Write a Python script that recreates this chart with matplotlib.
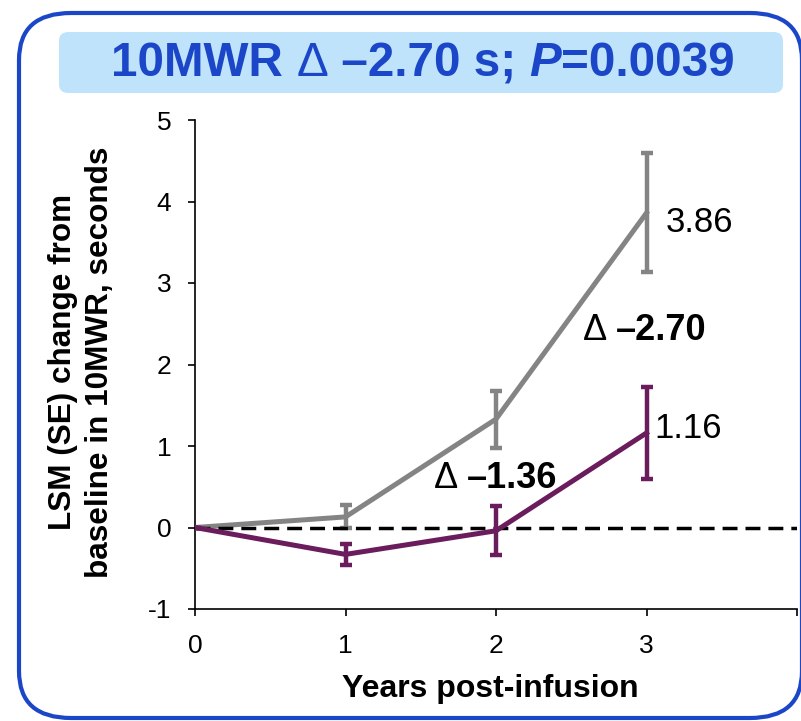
import matplotlib
matplotlib.use('Agg')
import matplotlib.pyplot as plt
import matplotlib.transforms as mtransforms
from matplotlib.patches import FancyBboxPatch

plt.rcParams['font.family'] = ['Liberation Sans', 'DejaVu Sans']
plt.rcParams['axes.unicode_minus'] = False

# data
years = [0, 1, 2, 3]
grey_lsm = [0.0, 0.13, 1.33, 3.86]
grey_se = [0.0, 0.14, 0.35, 0.73]
purple_lsm = [0.0, -0.33, -0.04, 1.16]
purple_se = [0.0, 0.13, 0.30, 0.57]
x_ticks = [0, 1, 2, 3, 4]
x_ticklabels = ['0', '1', '2', '3', '']
y_ticks = [-1, 0, 1, 2, 3, 4, 5]

GREY = '#848484'
PURPLE = '#6A1C5C'
BLUE = '#1B46C8'
TITLE_BG = '#BEE3FB'

W, H = 801, 721
fig = plt.figure(figsize=(W / 100, H / 100), dpi=100, facecolor='white')


def fx(px):
    return px / W


def fy(py):
    return 1 - py / H


# outer rounded frame
frame = FancyBboxPatch((fx(19), fy(718)), fx(802) - fx(19), fy(13) - fy(718),
                       boxstyle='round,pad=0,rounding_size=0.065',
                       transform=fig.transFigure, facecolor='none',
                       edgecolor=BLUE, linewidth=3.0, zorder=0)
fig.patches.append(frame)

# title box
tbox = FancyBboxPatch((fx(59), fy(93)), fx(783) - fx(59), fy(32) - fy(93),
                      boxstyle='round,pad=0,rounding_size=0.012',
                      transform=fig.transFigure, facecolor=TITLE_BG,
                      edgecolor='none', zorder=0)
fig.patches.append(tbox)

ax = fig.add_axes([fx(195), fy(609), fx(797) - fx(195), fy(120) - fy(609)])
ax.set_facecolor('none')
ax.set_zorder(2)

ax.errorbar(years, grey_lsm, yerr=grey_se, color=GREY, linewidth=3.6,
            elinewidth=3.2, capsize=4.5, capthick=3.2, zorder=3)
ax.axhline(0, color='black', linewidth=2.5, linestyle=(0, (4.3, 2.3)), zorder=4)
ax.errorbar(years, purple_lsm, yerr=purple_se, color=PURPLE, linewidth=3.6,
            elinewidth=3.2, capsize=4.5, capthick=3.2, zorder=5)

ax.set_xlim(0, 4)
ax.set_ylim(-1, 5)
ax.set_xticks(x_ticks)
ax.set_xticklabels(x_ticklabels)
ax.set_yticks(y_ticks)
for s in ['top', 'right']:
    ax.spines[s].set_visible(False)
for s in ['left', 'bottom']:
    ax.spines[s].set_linewidth(1.2)
ax.tick_params(direction='out', length=5, width=1.2, labelsize=19)
ax.tick_params(axis='x', pad=13)
ax.tick_params(axis='y', pad=12)

ax.set_xlabel('Years post-infusion', fontsize=23, fontweight='bold')
ax.xaxis.set_label_coords(0.49, -(674 - 609) / 489)
ax.xaxis.label.set_va('top')
ax.set_ylabel('LSM (SE) change from\nbaseline in 10MWR, seconds', fontsize=22.7,
              fontweight='bold', linespacing=1.3)
ax.yaxis.set_label_coords((115 - 195) / 602, 0.505)

# value labels
ax.annotate(f'{grey_lsm[3]:.2f}', xy=(years[3], grey_lsm[3]), xytext=(14, -7),
            textcoords='offset points', fontsize=25, va='center', ha='left')
ax.annotate(f'{purple_lsm[3]:.2f}', xy=(years[3], purple_lsm[3]), xytext=(6, 3),
            textcoords='offset points', fontsize=25, va='center', ha='left')

fig.canvas.draw()
renderer = fig.canvas.get_renderer()
ident = mtransforms.IdentityTransform()


def draw_pieces(x0, y0, pieces, size, color, center=False):
    """pieces: (text, weight, style); x0,y0 in display pixels"""
    texts = []
    for txt, weight, style in pieces:
        t = fig.text(0, y0, txt, fontsize=size, fontweight=weight,
                     fontstyle=style, color=color, va='center', ha='left',
                     transform=ident, zorder=5)
        texts.append(t)
    widths = [t.get_window_extent(renderer).width for t in texts]
    x = x0 - sum(widths) / 2 if center else x0
    for t, w in zip(texts, widths):
        t.set_x(x)
        x += w
    return texts


# title
draw_pieces(423, H - 64,
            [('10MWR ', 'bold', 'normal'), ('\u0394', 'normal', 'normal'),
             (' \u20132.70 s; ', 'bold', 'normal'), ('P', 'bold', 'italic'),
             ('=0.0039', 'bold', 'normal')], 34.3, BLUE, center=True)

# difference labels
diff_labels = [('\u20132.70', 2.58, 2.42), ('\u20131.36', 1.59, 0.60)]
for lab, xd, yd in diff_labels:
    px, py = ax.transData.transform((xd, yd))
    draw_pieces(px, py, [('\u0394 ', 'normal', 'normal'), (lab, 'bold', 'normal')],
                26, 'black')

fig.savefig('out.png', dpi=100, facecolor='white')
